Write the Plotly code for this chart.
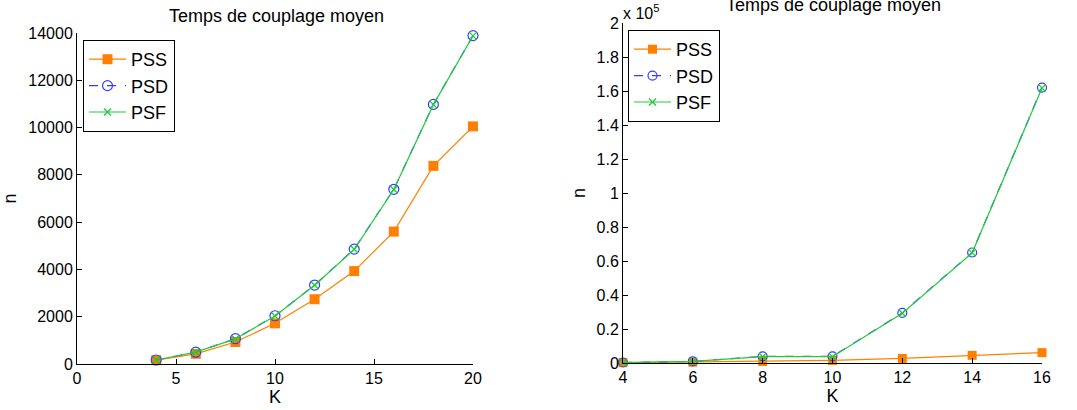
import plotly.graph_objects as go

# ---- data ----
K_left = [4, 6, 8, 10, 12, 14, 16, 18, 20]
pss_left = [160, 430, 930, 1720, 2740, 3930, 5600, 8380, 10050]
psd_left = [170, 500, 1070, 2040, 3340, 4860, 7390, 10980, 13890]
psf_left = [170, 500, 1060, 2030, 3330, 4850, 7380, 10970, 13880]

K_right = [4, 6, 8, 10, 12, 14, 16]
pss_right = [200, 500, 900, 1500, 2700, 4500, 6100]
psd_right = [300, 900, 3900, 3900, 29500, 65000, 162000]
psf_right = [300, 900, 3700, 3700, 29300, 64800, 161800]

left_xticks = [0, 5, 10, 15, 20]
left_yticks = [0, 2000, 4000, 6000, 8000, 10000, 12000, 14000]
right_xticks = [4, 6, 8, 10, 12, 14, 16]
right_yticks = [0, 20000, 40000, 60000, 80000, 100000, 120000, 140000, 160000, 180000, 200000]
right_yticktext = ["0", "0.2", "0.4", "0.6", "0.8", "1", "1.2", "1.4", "1.6", "1.8", "2"]

title_text = "Temps de couplage moyen"
names = ["PSS", "PSD", "PSF"]

ORANGE = "#ff8000"
BLUE = "#3a3aff"
GREEN = "#1fcc3a"
FONT = "Liberation Sans, Arial, Helvetica, sans-serif"

W, H = 1077, 410
ML, MR, MT, MB = 77, 35, 23, 46
PW, PH = W - ML - MR, H - MT - MB


def px_x(p):
    return (p - ML) / PW


def px_y(p):
    return (H - MB - p) / PH


fig = go.Figure()


def add_series(x, ys, xa, ya, legend, sizes):
    pss, psd, psf = ys
    fig.add_trace(go.Scatter(
        x=x, y=pss, name=names[0], xaxis=xa, yaxis=ya, legend=legend,
        mode="lines+markers", cliponaxis=False,
        line=dict(color=ORANGE, width=1.2),
        marker=dict(symbol="square", size=sizes[0], color=ORANGE),
    ))
    fig.add_trace(go.Scatter(
        x=x, y=psd, name=names[1], xaxis=xa, yaxis=ya, legend=legend,
        mode="lines+markers", cliponaxis=False,
        line=dict(color=BLUE, width=1.2, dash="dash"),
        marker=dict(symbol="circle-open", size=sizes[1], color=BLUE,
                    line=dict(width=1.2, color=BLUE)),
    ))
    fig.add_trace(go.Scatter(
        x=x, y=psf, name=names[2], xaxis=xa, yaxis=ya, legend=legend,
        mode="lines+markers", cliponaxis=False,
        line=dict(color=GREEN, width=1.2),
        marker=dict(symbol="x-thin", size=sizes[2], color=GREEN,
                    line=dict(width=1.3, color=GREEN)),
    ))


add_series(K_left, (pss_left, psd_left, psf_left), "x", "y", "legend", (10, 10, 7))
add_series(K_right, (pss_right, psd_right, psf_right), "x2", "y2", "legend2", (9, 9, 7))

axis_common = dict(
    showline=True, linecolor="black", linewidth=1,
    ticks="inside", ticklen=5, tickcolor="black", tickwidth=1,
    showgrid=False, zeroline=False, mirror=False, automargin=False,
    tickfont=dict(family=FONT, size=16, color="black"),
    title_font=dict(family=FONT, size=18, color="black"),
)

legend_common = dict(
    xanchor="left", yanchor="top",
    bgcolor="white", bordercolor="black", borderwidth=1,
    font=dict(family=FONT, size=18, color="black"),
    tracegroupgap=0, itemwidth=37,
)

fig.update_layout(
    width=W, height=H,
    margin=dict(l=ML, r=MR, t=MT, b=MB, autoexpand=False),
    plot_bgcolor="white", paper_bgcolor="white",
    font=dict(family=FONT, color="black"),
    showlegend=True,
    xaxis=dict(domain=[px_x(77), px_x(473)], range=[0, 20], tickvals=left_xticks,
               anchor="y", title=dict(text="K", standoff=1), **axis_common),
    yaxis=dict(domain=[px_y(364), px_y(33)], range=[0, 14000], tickvals=left_yticks,
               tickformat="d", anchor="x",
               title=dict(text="n", standoff=9), **axis_common),
    xaxis2=dict(domain=[px_x(623), px_x(1042)], range=[4, 16], tickvals=right_xticks,
                anchor="y2", title=dict(text="K", standoff=1), **axis_common),
    yaxis2=dict(domain=[px_y(363), px_y(23)], range=[0, 200000], tickvals=right_yticks,
                ticktext=right_yticktext, anchor="x2",
                title=dict(text="n", standoff=6), **axis_common),
    legend=dict(x=px_x(83), y=px_y(40), **legend_common),
    legend2=dict(x=px_x(628), y=px_y(30), **legend_common),
    annotations=[
        dict(text=title_text, xref="paper", yref="paper", x=px_x(276), y=px_y(16),
             xanchor="center", yanchor="middle", showarrow=False,
             font=dict(family=FONT, size=18, color="black")),
        dict(text=title_text, xref="paper", yref="paper", x=px_x(833), y=px_y(5),
             xanchor="center", yanchor="middle", showarrow=False,
             font=dict(family=FONT, size=18, color="black")),
        dict(text="x 10<sup>5</sup>", xref="paper", yref="paper", x=px_x(621), y=px_y(12),
             xanchor="left", yanchor="middle", showarrow=False,
             font=dict(family=FONT, size=16, color="black")),
    ],
)

fig.write_html(
    "out.html",
    config={"displayModeBar": False},
    post_script="document.body.style.margin='0';document.body.style.overflow='hidden';",
)
